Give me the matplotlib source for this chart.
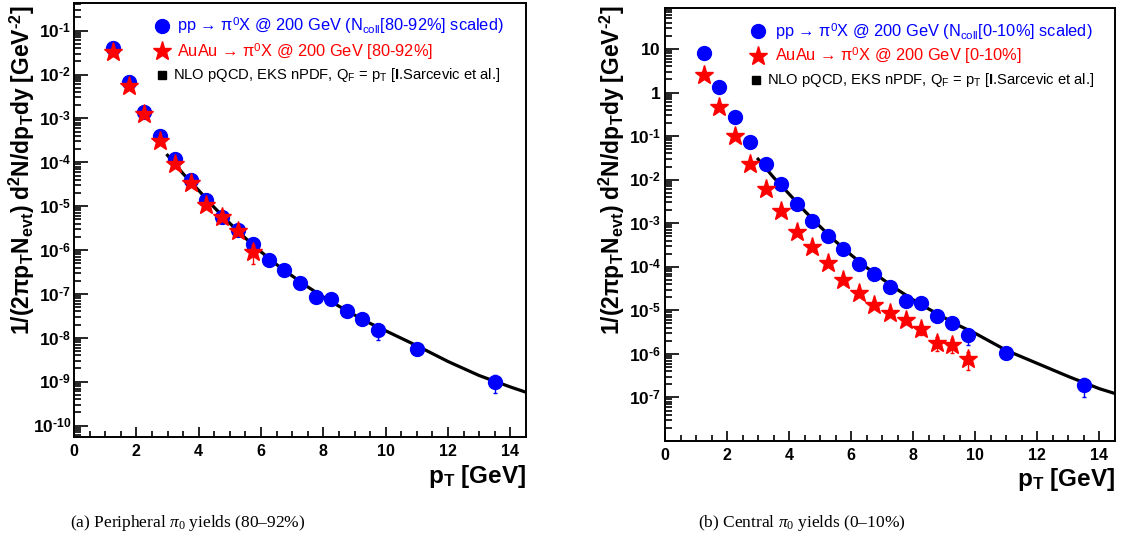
import numpy as np
import matplotlib
matplotlib.use("Agg")
import matplotlib.pyplot as plt
from matplotlib.ticker import LogLocator, FuncFormatter, MultipleLocator, NullFormatter

plt.rcParams['font.family'] = ['Liberation Sans', 'DejaVu Sans']
plt.rcParams['mathtext.fontset'] = 'custom'
plt.rcParams['mathtext.rm'] = 'Liberation Sans:bold'
plt.rcParams['mathtext.bf'] = 'Liberation Sans:bold'
plt.rcParams['mathtext.it'] = 'Liberation Serif:italic'
plt.rcParams['mathtext.sf'] = 'Liberation Serif'
plt.rcParams['mathtext.tt'] = 'Liberation Sans'

# ---- data ----
pt = [1.25, 1.75, 2.25, 2.75, 3.25, 3.75, 4.25, 4.75, 5.25, 5.75,
      6.25, 6.75, 7.25, 7.75, 8.25, 8.75, 9.25, 9.75, 11.0, 13.5]
pt_auau = [1.25, 1.75, 2.25, 2.75, 3.25, 3.75, 4.25, 4.75, 5.25, 5.75,
           6.25, 6.75, 7.25, 7.75, 8.25, 8.75, 9.25, 9.75]

# peripheral (80-92%)
pp_per = [4.0e-2, 6.9e-3, 1.43e-3, 3.9e-4, 1.17e-4, 4.0e-5, 1.39e-5, 5.8e-6, 2.8e-6, 1.38e-6,
          6.0e-7, 3.55e-7, 1.76e-7, 8.7e-8, 7.7e-8, 4.1e-8, 2.7e-8, 1.47e-8, 5.5e-9, 1.0e-9]
pp_per_err = [0.02, 0.02, 0.02, 0.03, 0.03, 0.03, 0.04, 0.05, 0.06, 0.08,
              0.08, 0.08, 0.08, 0.1, 0.1, 0.12, 0.2, 0.4, 0.2, 0.45]
au_per = [3.2e-2, 5.5e-3, 1.25e-3, 3.0e-4, 9.1e-5, 3.3e-5, 1.07e-5, 5.6e-6, 2.75e-6, 8.9e-7]
au_per_err = [0.03, 0.03, 0.04, 0.05, 0.06, 0.08, 0.1, 0.12, 0.2, 0.45]

# central (0-10%)
pp_cen = [7.9, 1.32, 0.27, 0.075, 0.0226, 7.9e-3, 2.75e-3, 1.1e-3, 5.2e-4, 2.57e-4,
          1.14e-4, 6.9e-5, 3.35e-5, 1.65e-5, 1.48e-5, 7.6e-6, 5.1e-6, 2.7e-6, 1.05e-6, 1.9e-7]
pp_cen_err = [0.02, 0.02, 0.02, 0.03, 0.03, 0.03, 0.04, 0.05, 0.06, 0.08,
              0.08, 0.08, 0.08, 0.1, 0.1, 0.12, 0.2, 0.4, 0.25, 0.45]
au_cen = [2.5, 0.46, 0.098, 0.0226, 6.0e-3, 1.94e-3, 6.4e-4, 2.9e-4, 1.2e-4, 5.0e-5,
          2.5e-5, 1.34e-5, 8.9e-6, 6.0e-6, 3.7e-6, 1.77e-6, 1.6e-6, 7.6e-7]
au_cen_err = [0.02, 0.02, 0.03, 0.03, 0.04, 0.05, 0.06, 0.07, 0.08, 0.1,
              0.1, 0.15, 0.15, 0.2, 0.25, 0.35, 0.35, 0.45]

# NLO pQCD curves (log10 of yield)
nlo_pt = [3.0, 3.5, 4.0, 4.5, 5.0, 5.5, 6.0, 6.5, 7.0, 7.5, 8.0, 8.5, 9.0, 9.5,
          10.0, 11.0, 12.0, 13.0, 14.0, 14.5]
nlo_per_log = [-3.84, -4.26, -4.64, -5.03, -5.39, -5.73, -6.04, -6.33, -6.59, -6.84,
               -7.07, -7.28, -7.48, -7.67, -7.84, -8.18, -8.54, -8.86, -9.12, -9.24]
nlo_cen_log = [-1.53, -1.95, -2.33, -2.72, -3.08, -3.42, -3.73, -4.02, -4.28, -4.53,
               -4.76, -4.97, -5.17, -5.36, -5.53, -5.92, -6.22, -6.52, -6.80, -6.91]

W, H = 1121, 552
fig = plt.figure(figsize=(W / 100, H / 100), dpi=100)


def fx(px):
    return px / W


def fy(py):
    return 1 - py / H


def exp_fmt(central):
    def f(v, pos):
        e = int(round(np.log10(v)))
        if central:
            if e == 1:
                return r'$\mathbf{10}$'
            if e == 0:
                return r'$\mathbf{1}$'
            if e < -7:
                return ''
        return r'$\mathbf{10}^{\text{-%d}}$' % abs(e)
    return f


def panel(box, ylim, pp, pp_err, au, au_err, nlo_log, central, tag, ylab_x, ypad, leg):
    x0, y0, x1, y1 = box
    ax = fig.add_axes([fx(x0), fy(y1), fx(x1 - x0), (y1 - y0) / H])
    ax.set_yscale('log')
    ax.set_xlim(0, 14.5)
    ax.set_ylim(*ylim)

    # curve
    ax.plot(nlo_pt, 10 ** np.array(nlo_log), color='black', lw=2.3, zorder=2)
    # data
    pp = np.array(pp)
    au = np.array(au)
    ax.errorbar(pt, pp, yerr=np.array(pp_err) * pp, fmt='o', color='blue', ms=10,
                elinewidth=1, capsize=1.5, zorder=3)
    ax.errorbar(pt_auau[:len(au)], au, yerr=np.array(au_err) * au, fmt='*', color='red',
                ms=14, elinewidth=1, capsize=1.5, zorder=4)

    # ticks ROOT style
    ax.xaxis.set_major_locator(MultipleLocator(2))
    ax.xaxis.set_minor_locator(MultipleLocator(0.5))
    ax.yaxis.set_major_locator(LogLocator(base=10, numticks=30))
    ax.yaxis.set_minor_locator(LogLocator(base=10, subs=np.arange(2, 10), numticks=30))
    ax.yaxis.set_minor_formatter(NullFormatter())
    ax.yaxis.set_major_formatter(FuncFormatter(exp_fmt(central)))
    ax.tick_params(which='both', direction='in', top=False, right=False, width=1.2)
    ax.tick_params(axis='x', which='major', length=7, pad=5, labelsize=11.5)
    ax.tick_params(axis='x', which='minor', length=4)
    ax.tick_params(axis='y', which='major', length=10, pad=ypad, labelsize=12.5)
    ax.tick_params(axis='y', which='minor', length=5)
    for lab in ax.get_xticklabels():
        lab.set_fontweight('bold')
    for s in ax.spines.values():
        s.set_linewidth(1.4)

    ax.text(1.0, -0.09, r'$\mathbf{p_{T}}$ [GeV]', transform=ax.transAxes,
            ha='right', va='center', fontsize=17.5, fontweight='bold')
    fig.text(fx(ylab_x), fy(6),
             r'$\mathbf{1/(2\pi p_{T}N_{evt})\ d^{2}N/dp_{T}dy\ [GeV}^{\text{-2}}\mathbf{]}$',
             rotation=90, ha='center', va='top', fontsize=16.5)

    # legend
    mx, tx, sx, sx_t = leg
    rows = [y0 + 23, y0 + 48, y0 + 72]
    inv = ax.transAxes.inverted()

    def ac(px, py):
        return inv.transform(fig.transFigure.transform((fx(px), fy(py))))

    ax.plot(*ac(x0 + mx, rows[0]), 'o', color='blue', ms=10, transform=ax.transAxes, clip_on=False)
    ax.plot(*ac(x0 + mx, rows[1]), '*', color='red', ms=14, transform=ax.transAxes, clip_on=False)
    ax.plot(*ac(x0 + sx, rows[2]), 's', color='black', ms=5.5, transform=ax.transAxes, clip_on=False)
    ax.text(*ac(x0 + tx, rows[0]), r'pp → π$^{\mathtt{0}}$X @ 200 GeV (N$_{\mathtt{coll}}$[%s] scaled)' % tag,
            transform=ax.transAxes, color='blue', fontsize=11.8, va='center')
    ax.text(*ac(x0 + tx, rows[1]), r'AuAu → π$^{\mathtt{0}}$X @ 200 GeV [%s]' % tag,
            transform=ax.transAxes, color='red', fontsize=11.8, va='center')
    ax.text(*ac(x0 + sx_t, rows[2]),
            r'NLO pQCD, EKS nPDF, Q$_{\mathtt{F}}$ = p$_{\mathtt{T}}$ [$\mathbf{I}$.Sarcevic et al.]',
            transform=ax.transAxes, color='black', fontsize=10.6, va='center')
    return ax


panel((74, 3, 526, 437), (10 ** -10.26, 10 ** -0.37), pp_per, pp_per_err, au_per, au_per_err,
      nlo_per_log, False, '80-92%', 22, 2, (88, 103, 88, 99))
panel((665, 8, 1115, 441), (1.0e-8, 10 ** 1.94), pp_cen, pp_cen_err, au_cen, au_cen_err,
      nlo_cen_log, True, '0-10%', 612, 3, (93, 110, 91, 102))

fig.text(fx(188), fy(523), r'(a) Peripheral $\pi_{\mathsf{0}}$ yields (80–92%)',
         family='Liberation Serif', fontsize=12.5, ha='center', va='center')
fig.text(fx(802), fy(523), r'(b) Central $\pi_{\mathsf{0}}$ yields (0–10%)',
         family='Liberation Serif', fontsize=12.5, ha='center', va='center')

fig.savefig('out.png', dpi=100)
